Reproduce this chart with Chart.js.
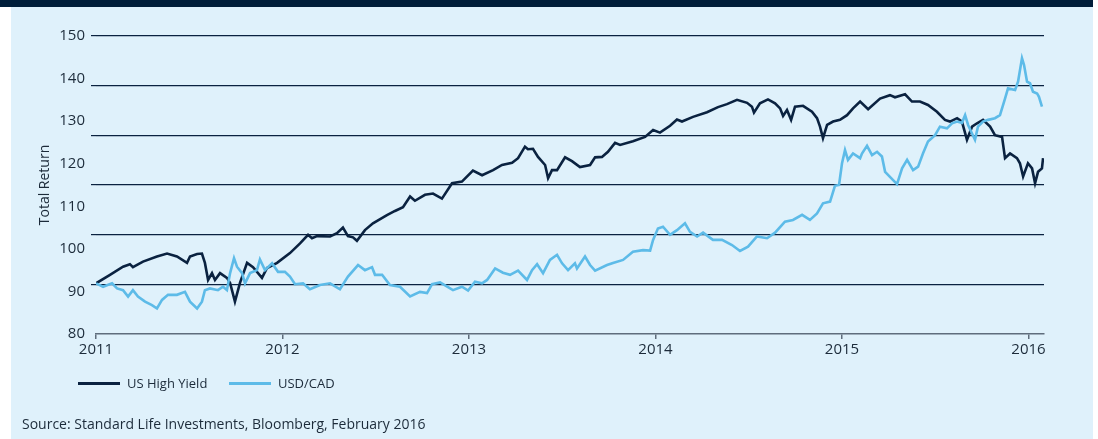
<!DOCTYPE html>
<html>
<head>
<meta charset="utf-8">
<script src="https://cdn.jsdelivr.net/npm/chart.js@4.4.1/dist/chart.umd.min.js"></script>
<style>
  html, body { margin: 0; padding: 0; background: #fff; }
  body { width: 1098px; height: 439px; position: relative; overflow: hidden; font-family: "Open Sans", sans-serif; color: #1c2b3a; }
  #band  { position: absolute; left: 0; top: 0; width: 1093px; height: 7px; background: #001e3a; }
  #panel { position: absolute; left: 11px; top: 7px; width: 1082px; height: 432px; background: #dff1fb; }
  #chart { position: absolute; left: 0; top: 0; }
  .legend { position: absolute; top: 374px; height: 18px; display: flex; align-items: center; font-size: 13px; }
  .legend .swatch { width: 42px; height: 3px; margin-right: 7px; }
  #source { position: absolute; left: 22px; top: 414px; font-size: 14px; }
</style>
</head>
<body>
<div id="band"></div>
<div id="panel"></div>
<canvas id="chart" width="1098" height="439"></canvas>
<div class="legend" style="left:78px"><span class="swatch" style="background:#0a2240"></span>US High Yield</div>
<div class="legend" style="left:229px"><span class="swatch" style="background:#5dbbe8"></span>USD/CAD</div>
<div id="source">Source: Standard Life Investments, Bloomberg, February 2016</div>

<script>
// ─── Datos (años decimales) ──────────────────────────────────────────────────

const yearTicks = [2011, 2012, 2013, 2014, 2015, 2016];
const yMin = 80, yMax = 150, yStep = 10;

const hyYears = [
  2011.000, 2011.075, 2011.145, 2011.182, 2011.198, 2011.252, 2011.327, 2011.381, 2011.434, 2011.488,
  2011.504, 2011.542, 2011.568, 2011.584, 2011.601, 2011.622, 2011.638, 2011.665, 2011.702, 2011.719,
  2011.745, 2011.772, 2011.810, 2011.842, 2011.890, 2011.917, 2011.971, 2012.040, 2012.094, 2012.137,
  2012.158, 2012.185, 2012.255, 2012.292, 2012.324, 2012.351, 2012.378, 2012.399, 2012.442, 2012.485,
  2012.560, 2012.603, 2012.646, 2012.684, 2012.710, 2012.764, 2012.807, 2012.855, 2012.909, 2012.962,
  2013.021, 2013.070, 2013.129, 2013.177, 2013.231, 2013.263, 2013.300, 2013.316, 2013.343, 2013.370,
  2013.408, 2013.424, 2013.445, 2013.472, 2013.515, 2013.552, 2013.595, 2013.649, 2013.676, 2013.713,
  2013.745, 2013.783, 2013.810, 2013.879, 2013.944, 2013.987, 2014.024, 2014.078, 2014.115, 2014.142,
  2014.201, 2014.276, 2014.335, 2014.383, 2014.437, 2014.491, 2014.517, 2014.528, 2014.560, 2014.603,
  2014.641, 2014.668, 2014.684, 2014.705, 2014.727, 2014.748, 2014.791, 2014.839, 2014.866, 2014.882,
  2014.898, 2014.920, 2014.952, 2014.989, 2015.027, 2015.059, 2015.097, 2015.140, 2015.204, 2015.257,
  2015.284, 2015.338, 2015.375, 2015.418, 2015.461, 2015.509, 2015.552, 2015.579, 2015.617, 2015.643,
  2015.670, 2015.697, 2015.724, 2015.756, 2015.794, 2015.820, 2015.858, 2015.874, 2015.901, 2015.938,
  2015.954, 2015.971, 2015.997, 2016.019, 2016.035, 2016.051, 2016.072, 2016.078
];
const hyValues = [
  91.9, 93.9, 95.8, 96.4, 95.7, 97.0, 98.2, 98.9, 98.2, 96.7,
  98.2, 98.8, 98.9, 96.7, 92.7, 94.3, 92.7, 94.3, 93.2, 92.0,
  87.6, 92.0, 96.7, 95.7, 93.2, 95.5, 96.7, 99.0, 101.3, 103.3,
  102.5, 103.0, 102.9, 103.7, 105.0, 103.0, 102.7, 101.9, 104.4, 106.0,
  107.9, 108.9, 109.8, 112.3, 111.3, 112.7, 113.0, 111.8, 115.4, 115.8,
  118.4, 117.3, 118.5, 119.7, 120.2, 121.3, 124.0, 123.4, 123.5, 121.6,
  119.7, 116.6, 118.5, 118.5, 121.5, 120.6, 119.2, 119.7, 121.5, 121.6,
  122.8, 124.9, 124.4, 125.3, 126.3, 127.9, 127.3, 128.9, 130.4, 129.9,
  131.0, 132.1, 133.3, 134.0, 135.0, 134.3, 133.4, 132.0, 134.2, 135.1,
  134.2, 133.0, 131.2, 132.6, 130.3, 133.4, 133.6, 132.2, 130.7, 128.7,
  126.0, 129.1, 129.9, 130.3, 131.4, 133.0, 134.6, 132.8, 135.3, 136.1,
  135.6, 136.3, 134.6, 134.6, 133.8, 132.2, 130.3, 129.9, 130.7, 129.9,
  125.6, 128.7, 129.5, 130.3, 128.7, 126.7, 126.3, 121.3, 122.4, 121.3,
  120.1, 117.0, 120.1, 118.9, 115.4, 118.1, 118.9, 121.3
];

const cadYears = [
  2011.000, 2011.038, 2011.086, 2011.113, 2011.145, 2011.172, 2011.198, 2011.225, 2011.263, 2011.300,
  2011.327, 2011.354, 2011.386, 2011.434, 2011.477, 2011.504, 2011.542, 2011.568, 2011.584, 2011.611,
  2011.654, 2011.681, 2011.702, 2011.719, 2011.740, 2011.756, 2011.783, 2011.799, 2011.826, 2011.863,
  2011.879, 2011.906, 2011.944, 2011.976, 2012.013, 2012.040, 2012.067, 2012.110, 2012.147, 2012.201,
  2012.255, 2012.308, 2012.351, 2012.405, 2012.442, 2012.480, 2012.496, 2012.534, 2012.576, 2012.630,
  2012.684, 2012.737, 2012.775, 2012.802, 2012.845, 2012.914, 2012.962, 2012.995, 2013.032, 2013.070,
  2013.097, 2013.140, 2013.182, 2013.220, 2013.263, 2013.311, 2013.338, 2013.365, 2013.397, 2013.434,
  2013.472, 2013.499, 2013.531, 2013.568, 2013.579, 2013.622, 2013.649, 2013.676, 2013.740, 2013.772,
  2013.826, 2013.879, 2013.933, 2013.971, 2013.987, 2014.013, 2014.040, 2014.078, 2014.115, 2014.158,
  2014.185, 2014.223, 2014.255, 2014.308, 2014.357, 2014.410, 2014.453, 2014.496, 2014.544, 2014.598,
  2014.641, 2014.694, 2014.737, 2014.786, 2014.828, 2014.866, 2014.898, 2014.936, 2014.962, 2014.984,
  2015.000, 2015.016, 2015.032, 2015.059, 2015.097, 2015.107, 2015.134, 2015.161, 2015.188, 2015.214,
  2015.231, 2015.257, 2015.295, 2015.322, 2015.349, 2015.381, 2015.408, 2015.434, 2015.461, 2015.499,
  2015.525, 2015.563, 2015.590, 2015.617, 2015.643, 2015.660, 2015.676, 2015.697, 2015.713, 2015.729,
  2015.756, 2015.783, 2015.820, 2015.847, 2015.874, 2015.890, 2015.928, 2015.944, 2015.965, 2015.976,
  2015.992, 2016.008, 2016.024, 2016.046, 2016.056, 2016.072
];
const cadValues = [
  91.9, 91.1, 91.9, 90.7, 90.3, 88.8, 90.3, 88.8, 87.6, 86.8,
  86.0, 88.0, 89.2, 89.2, 89.9, 87.6, 86.0, 87.6, 90.3, 90.7,
  90.3, 91.1, 90.3, 94.3, 97.8, 95.8, 94.3, 91.9, 94.3, 95.0,
  97.5, 95.0, 96.6, 94.6, 94.6, 93.5, 91.7, 91.9, 90.5, 91.5,
  91.9, 90.5, 93.5, 96.2, 95.0, 95.7, 93.9, 93.9, 91.5, 91.1,
  88.8, 89.9, 89.6, 91.7, 92.1, 90.3, 91.1, 90.2, 92.3, 91.9,
  92.7, 95.4, 94.4, 93.9, 94.9, 92.7, 95.0, 96.4, 94.3, 97.4,
  98.6, 96.6, 95.0, 96.6, 95.4, 98.2, 96.2, 94.9, 96.2, 96.7,
  97.4, 99.3, 99.7, 99.6, 102.1, 104.8, 105.2, 103.3, 104.4, 106.0,
  104.0, 102.9, 103.8, 102.1, 102.1, 100.9, 99.5, 100.5, 102.9, 102.5,
  103.8, 106.4, 106.8, 108.0, 106.8, 108.3, 110.7, 111.1, 114.8, 115.0,
  120.1, 123.2, 120.9, 122.4, 121.3, 122.4, 124.2, 122.0, 122.8, 121.7,
  118.1, 116.9, 115.2, 118.9, 120.9, 118.5, 119.3, 122.4, 125.2, 126.7,
  128.7, 128.3, 129.5, 129.9, 129.6, 131.4, 129.1, 127.1, 125.6, 128.7,
  129.9, 130.3, 130.7, 131.4, 135.3, 137.7, 137.3, 139.3, 144.8, 143.2,
  139.3, 138.9, 136.9, 136.5, 135.7, 133.4
];

// ─── Gráfica ─────────────────────────────────────────────────────────────────

const navy  = '#0a2240';
const sky   = '#5dbbe8';
const axisC = '#5f6d7c';
const txtC  = '#1c2b3a';
const font  = 'Open Sans';

const toPoints = (xs, ys) => xs.map((x, i) => ({ x, y: ys[i] }));

new Chart(document.getElementById('chart'), {
  type: 'line',
  data: {
    datasets: [
      {
        label: 'US High Yield',
        data: toPoints(hyYears, hyValues),
        borderColor: navy,
        borderWidth: 2.6,
        pointRadius: 0,
        tension: 0,
        order: 1,
        yAxisID: 'y'
      },
      {
        label: 'USD/CAD',
        data: toPoints(cadYears, cadValues),
        borderColor: sky,
        borderWidth: 2.6,
        pointRadius: 0,
        tension: 0,
        order: 0,
        yAxisID: 'y'
      }
    ]
  },
  options: {
    responsive: false,
    animation: false,
    layout: { padding: { left: 34, top: 36, right: 54, bottom: 0 } },
    plugins: { legend: { display: false }, tooltip: { enabled: false } },
    scales: {
      x: {
        type: 'linear',
        min: 2011,
        max: 2016.083,
        afterBuildTicks: s => { s.ticks = yearTicks.map(v => ({ value: v })); },
        afterFit: s => { s.height = 105; },
        border: { color: axisC, width: 1.5 },
        grid: { drawOnChartArea: false, drawTicks: true, tickLength: 5, color: axisC, lineWidth: 1.5 },
        ticks: { color: txtC, font: { family: font, size: 15 }, padding: 2, maxRotation: 0, callback: v => String(v) }
      },
      y: {
        position: 'left',
        weight: 1,
        min: yMin,
        max: yMax,
        afterFit: s => { s.width = 57; },
        border: { display: false },
        grid: { display: false, drawTicks: false },
        ticks: { stepSize: yStep, color: txtC, font: { family: font, size: 15 }, padding: 6 },
        title: { display: true, text: 'Total Return', color: txtC, font: { family: font, size: 14 }, padding: { top: 3, bottom: 0 } }
      },
      // rejilla propia: 6 divisiones iguales, independiente de las etiquetas
      yGrid: {
        position: 'left',
        weight: 0,
        min: 0,
        max: 6,
        afterFit: s => { s.width = 5; },
        border: { display: false },
        grid: {
          drawTicks: true,
          tickLength: 5,
          lineWidth: 1.2,
          color: ctx => ctx.tick && ctx.tick.value === 0 ? 'rgba(0,0,0,0)' : navy,
          tickColor: ctx => ctx.tick && ctx.tick.value === 0 ? 'rgba(0,0,0,0)' : navy
        },
        ticks: { stepSize: 1, display: false }
      }
    }
  }
});
</script>
</body>
</html>
